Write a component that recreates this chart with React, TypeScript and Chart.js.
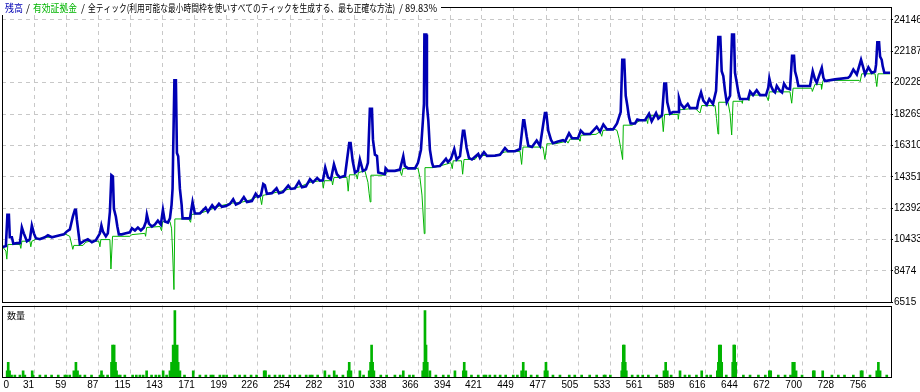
import React, { useEffect, useRef } from 'react';
import { Chart, registerables } from 'chart.js';

Chart.register(...registerables);
Chart.defaults.font.family = '"Liberation Sans", Arial, sans-serif';

const titleTexts = ['残高', '/', '有効証拠金', '/', '全ティック(利用可能な最小時間枠を使いすべてのティックを生成する、最も正確な方法)', '/', '89.83%'];
const volumeLabel = '数量';

const xTickLabels = [0, 31, 59, 87, 115, 143, 171, 199, 226, 254, 282, 310, 338, 366, 394, 421, 449, 477, 505, 533, 561, 589, 616, 644, 672, 700, 728, 756];
const yTickValues = [6515, 8474, 10433, 12392, 14351, 16310, 18269, 20228, 22187, 24146];

const balanceTrades = [
  3.7, 6.4, 7.7, 9.0, 9.8, 11.6, 12.9, 15.9, 18.6, 20.3, 22.0, 24.7, 27.3, 29.0, 30.8, 32.5, 36.0, 40.3, 43.0, 46.4,
  49.9, 53.4, 56.9, 59.5, 62.1, 64.7, 66.5, 67.4, 68.2, 70.0, 70.8, 74.3, 77.8, 81.3, 84.8, 88.3, 89.6, 90.9, 93.5, 95.2,
  97.0, 98.3, 99.6, 100.5, 102.2, 103.5, 104.8, 107.4, 110.9, 114.4, 116.2, 118.8, 121.4, 124.0, 126.6, 128.4, 129.2, 131.0, 133.6, 136.2,
  138.8, 141.4, 143.2, 144.9, 147.5, 149.3, 150.7, 151.6, 152.1, 153.2, 154.5, 155.4, 156.5, 158.0, 159.5, 160.3, 161.5, 166.7, 169.0, 171.0,
  175.4, 180.4, 182.4, 186.1, 188.5, 192.0, 194.6, 198.1, 201.5, 204.4, 206.8, 210.3, 213.7, 216.4, 220.7, 224.0, 226.0, 228.6, 230.6, 232.0,
  233.8, 238.1, 242.2, 244.3, 247.7, 252.4, 254.7, 258.2, 261.7, 264.3, 267.8, 271.3, 273.9, 277.6, 280.0, 282.6, 284.6, 287.0, 289.6, 292.2,
  294.8, 297.4, 301.8, 305.5, 306.7, 308.5, 310.5, 313.1, 314.8, 317.4, 320.1, 321.8, 323.5, 325.3, 326.2, 327.9, 329.7, 330.8, 336.6, 337.2,
  339.2, 345.3, 349.7, 352.6, 354.0, 356.7, 362.8, 365.4, 368.0, 369.7, 370.6, 371.0, 372.6, 373.2, 374.4, 375.8, 377.6, 378.7, 384.5, 389.8,
  391.5, 394.1, 397.0, 399.1, 402.0, 404.6, 405.7, 407.8, 409.8, 412.4, 417.9, 419.4, 422.9, 425.5, 432.5, 436.8, 441.2, 443.8, 449.9, 454.3,
  457.1, 458.0, 460.1, 461.5, 464.7, 468.8, 471.7, 476.0, 477.2, 478.9, 481.3, 483.0, 487.4, 491.7, 493.5, 497.0, 499.6, 504.8, 507.2, 510.0,
  515.3, 521.1, 524.0, 526.9, 530.1, 535.3, 538.8, 542.0, 543.4, 545.1, 546.4, 547.8, 549.2, 550.7, 554.5, 556.5, 558.8, 563.2, 566.7, 569.0,
  572.8, 574.8, 578.0, 580.0, 581.5, 582.6, 585.0, 587.6, 592.0, 592.8, 594.3, 597.2, 600.4, 602.4, 608.5, 609.6, 612.0, 614.0, 617.0, 619.2,
  622.4, 625.1, 627.1, 628.8, 630.0, 631.4, 632.9, 634.4, 637.3, 639.0, 640.7, 641.6, 643.1, 644.5, 646.0, 652.9, 654.7, 657.3, 660.5, 663.4,
  668.6, 670.6, 671.5, 673.0, 675.0, 676.5, 678.0, 680.8, 682.6, 684.3, 686.7, 689.5, 691.3, 693.0, 693.9, 695.4, 696.8, 706.9, 709.3, 711.3,
  712.8, 717.2, 718.6, 720.0, 728.7, 740.1, 741.8, 744.7, 747.7, 751.4, 753.4, 754.9, 757.8, 760.7, 763.6, 764.5, 765.6, 767.1, 768.0, 769.4,
  770.3, 771.7, 776.7
];
const balanceValues = [
  9962, 10023, 11982, 11982, 10574, 10574, 10164, 10207, 10207, 11186, 10819, 10329, 10452, 11309, 10819, 10513, 10452, 10574, 10697, 10574,
  10635, 10697, 10758, 10941, 11064, 11859, 12288, 12288, 11676, 10635, 10164, 10329, 10452, 10268, 10391, 10819, 11309, 10941, 10635, 10819,
  12166, 14449, 14370, 12349, 11860, 11247, 10758, 10758, 10819, 10880, 11144, 11002, 11186, 11002, 11186, 11553, 11982, 11431, 11247, 11370,
  11615, 11370, 12288, 11553, 11492, 11755, 12576, 13592, 15839, 20369, 20369, 15839, 15637, 13592, 12594, 11755, 11755, 11755, 12778, 12062,
  12062, 12429, 12166, 12576, 12350, 12674, 12472, 12533, 12655, 12943, 12613, 12735, 13084, 12778, 12839, 13286, 13084, 13207, 13898, 13819,
  13286, 13329, 13635, 13329, 13390, 13800, 13592, 13635, 14045, 13696, 13757, 14204, 14002, 14266, 14106, 14125, 14921, 14309, 14204, 15123,
  14510, 14309, 14413, 16451, 16451, 15349, 14615, 14737, 15429, 14719, 14817, 15227, 18594, 18594, 16653, 15735, 15655, 14615, 14510, 14878,
  14719, 14719, 14798, 15637, 15025, 14878, 14878, 15227, 16041, 17878, 18900, 23228, 23228, 18796, 17878, 16041, 15227, 14982, 15025, 15472,
  15270, 15472, 16084, 15429, 15637, 17229, 17229, 16145, 15533, 15429, 15778, 15533, 15882, 15655, 15673, 15717, 16145, 15943, 15943, 16084,
  17878, 17878, 16862, 16286, 16206, 16616, 16286, 18331, 18331, 17229, 16653, 16451, 16555, 16635, 16555, 17064, 16757, 16757, 17229, 17021,
  17021, 17474, 17168, 17615, 17308, 17308, 17676, 18392, 21655, 21655, 19408, 18796, 18086, 17676, 17676, 17921, 17878, 17878, 18288, 17816,
  18331, 17982, 18184, 20167, 20167, 19004, 18288, 18392, 18392, 19267, 18900, 18637, 18900, 18637, 18637, 19065, 19616, 19102, 18839, 19206,
  18900, 19714, 23081, 23081, 20939, 20633, 19714, 19004, 19408, 23228, 23228, 20841, 20228, 19616, 19206, 19206, 19678, 19451, 19757, 19451,
  19451, 19922, 20492, 20020, 19714, 19616, 20020, 19714, 19616, 20167, 19880, 19818, 21900, 21900, 20939, 20535, 20020, 20020, 20939, 20430,
  20228, 21147, 20535, 20326, 20430, 20535, 20633, 21043, 20737, 21655, 21147, 20737, 21184, 20841, 20920, 21349, 22739, 22739, 21857, 21655,
  21245, 20841, 20841
];

const equityTrades = [
  3.7, 6.4, 7.2, 8.1, 18.6, 19.4, 20.3, 27.3, 28.1, 29.0, 32.5, 40.3, 46.4, 53.4, 58.6, 62.0, 64.7, 65.6, 73.5, 76.0,
  79.6, 87.4, 88.3, 89.1, 97.0, 97.9, 99.3, 114.4, 116.2, 127.5, 128.1, 129.0, 140.6, 142.0, 142.9, 149.3, 150.7, 151.6, 152.8, 153.6,
  165.8, 167.3, 168.2, 175.4, 184.1, 192.8, 204.2, 210.3, 219.0, 227.7, 229.2, 230.3, 240.8, 253.8, 262.6, 271.3, 280.0, 282.2, 282.9, 283.9,
  290.4, 291.0, 292.2, 303.5, 304.6, 305.7, 311.8, 312.5, 313.5, 319.2, 321.8, 322.9, 323.8, 324.4, 336.6, 339.2, 349.7, 351.2, 352.3, 365.4,
  367.1, 368.9, 370.9, 371.5, 378.4, 384.5, 394.1, 395.3, 396.1, 403.3, 404.3, 405.5, 415.1, 417.7, 432.5, 441.2, 454.3, 455.7, 456.9, 474.3,
  476.0, 477.8, 484.8, 495.2, 496.1, 497.8, 505.7, 506.5, 507.4, 520.5, 524.0, 525.5, 526.6, 537.0, 538.8, 540.5, 542.3, 543.7, 544.3, 551.9,
  558.8, 564.9, 565.5, 566.2, 578.0, 579.1, 580.3, 591.9, 592.2, 593.2, 606.8, 611.1, 612.6, 624.2, 625.5, 626.8, 627.4, 635.5, 637.3, 638.7,
  639.9, 647.7, 648.0, 648.6, 653.4, 653.8, 654.7, 668.6, 670.6, 671.5, 689.5, 691.0, 692.2, 708.4, 709.0, 711.3, 716.6, 717.0, 718.3, 749.7,
  750.6, 752.0, 763.6, 765.1, 766.2, 776.7
];
const equityValues = [
  9962, 9717, 9209, 10127, 10127, 9882, 10329, 10329, 9980, 10329, 10452, 10574, 10574, 10697, 10758, 10635, 9820, 10066, 10066, 10268,
  10329, 10329, 9980, 10431, 10431, 8596, 10635, 10635, 10739, 10819, 10635, 11186, 11247, 10984, 11553, 11553, 11144, 9717, 7311, 11719,
  11719, 11511, 12000, 12062, 12288, 12533, 12717, 12735, 12900, 13189, 12613, 13189, 13360, 13592, 13727, 14002, 14106, 14106, 13635, 14106,
  14106, 13837, 14309, 14309, 13451, 14474, 14474, 14204, 14615, 14719, 14002, 13286, 12778, 14449, 14449, 14719, 14737, 14431, 14859, 14878,
  14309, 13207, 10800, 14921, 14921, 15025, 15227, 14859, 15349, 15349, 14510, 15429, 15429, 15686, 15673, 15900, 15943, 15123, 16206, 16206,
  15429, 16408, 16408, 16574, 16451, 16696, 16696, 16574, 16941, 17002, 17168, 16880, 17247, 17308, 17247, 16757, 16041, 15429, 17572, 17572,
  17859, 17859, 17676, 18165, 18165, 17168, 18245, 18245, 17939, 18533, 18625, 18331, 18796, 18796, 17982, 17021, 19004, 19004, 18288, 16960,
  19065, 19065, 18943, 19206, 19206, 19102, 19451, 19451, 19102, 19653, 19653, 18943, 19880, 19880, 19678, 20124, 20124, 19818, 20369, 20369,
  20290, 20780, 20780, 19984, 20780, 20780
];

const volumeTrades = [
  7.5, 8.4, 9.6, 11.3, 14.2, 18.6, 21.4, 22.9, 29.3, 30.2, 36, 41, 46.2, 52, 57.8, 59.2, 62, 65.6, 67.4, 68.8,
  71, 75.2, 81, 88.3, 89.7, 91.1, 95, 98.4, 99.3, 100.7, 101.9, 102.8, 104.2, 106, 110, 116.8, 120, 123.1, 126, 129,
  133.3, 137, 140, 143.4, 146.4, 149.3, 150.7, 152.1, 153.6, 155.6, 156.5, 158, 162, 169.6, 175.4, 180.6, 185, 187, 192.8, 196,
  198.7, 205.9, 210, 214.6, 220, 224.8, 231.4, 232.6, 235.8, 240.8, 245, 248, 253.8, 258, 262.5, 268, 271.3, 273.3, 278, 284.3,
  288, 292.4, 294.5, 300, 304.6, 305.5, 307, 314.8, 318, 322.9, 324.1, 325, 325.9, 327, 333, 338.1, 345.3, 350, 352.6, 358,
  361.3, 369.5, 370.6, 371.5, 372.4, 373.5, 375.8, 381, 387.4, 392, 397.6, 404.9, 405.7, 407.2, 412, 417.9, 422.9, 424.6, 428, 432.5,
  437, 441.8, 448.4, 452, 455.7, 457.1, 459.2, 464, 469.3, 476, 476.9, 478.1, 483, 489.1, 497.2, 502, 508, 515, 521.1, 527.5,
  528.6, 533, 542.9, 543.7, 544.3, 545.1, 546, 546.9, 552, 557, 561.2, 566.1, 573.4, 579.7, 581.2, 582.6, 586, 593.7, 598, 601.8,
  608, 612.6, 617, 620.4, 626.2, 627.1, 627.9, 629.1, 630, 634, 639.6, 640.5, 641.3, 642.2, 648.9, 654.7, 662, 668, 671.5, 672.7,
  679.3, 685.2, 690, 691.9, 693.3, 694.8, 700, 709.8, 710.7, 718, 726, 731.6, 737, 744.7, 751.4, 752.5, 759.2, 765.1, 766.5, 768,
  773.8
];
const volumeLots = [
  0.03, 0.07, 0.03, 0.01, 0.01, 0.01, 0.03, 0.01, 0.03, 0.01, 0.01, 0.01, 0.01, 0.01, 0.01, 0.01, 0.01, 0.03, 0.07, 0.03,
  0.01, 0.01, 0.01, 0.01, 0.03, 0.01, 0.01, 0.07, 0.15, 0.15, 0.07, 0.03, 0.01, 0.01, 0.01, 0.01, 0.01, 0.01, 0.01, 0.03,
  0.01, 0.01, 0.01, 0.03, 0.01, 0.03, 0.07, 0.15, 0.31, 0.15, 0.07, 0.03, 0.01, 0.03, 0.01, 0.01, 0.01, 0.01, 0.01, 0.01,
  0.01, 0.01, 0.01, 0.01, 0.01, 0.01, 0.03, 0.03, 0.01, 0.01, 0.01, 0.01, 0.01, 0.01, 0.01, 0.01, 0.01, 0.01, 0.01, 0.03,
  0.01, 0.03, 0.01, 0.01, 0.03, 0.07, 0.03, 0.03, 0.01, 0.03, 0.07, 0.15, 0.07, 0.03, 0.01, 0.01, 0.01, 0.01, 0.03, 0.01,
  0.01, 0.03, 0.07, 0.31, 0.15, 0.07, 0.03, 0.01, 0.01, 0.01, 0.03, 0.03, 0.07, 0.03, 0.01, 0.01, 0.01, 0.01, 0.01, 0.01,
  0.01, 0.01, 0.01, 0.01, 0.03, 0.07, 0.03, 0.01, 0.01, 0.03, 0.07, 0.03, 0.01, 0.01, 0.01, 0.01, 0.01, 0.01, 0.01, 0.01,
  0.01, 0.01, 0.03, 0.07, 0.15, 0.15, 0.07, 0.03, 0.01, 0.01, 0.01, 0.01, 0.01, 0.03, 0.07, 0.03, 0.01, 0.03, 0.01, 0.01,
  0.01, 0.03, 0.01, 0.01, 0.03, 0.07, 0.15, 0.15, 0.07, 0.01, 0.07, 0.15, 0.15, 0.07, 0.01, 0.01, 0.01, 0.01, 0.03, 0.03,
  0.01, 0.01, 0.01, 0.07, 0.07, 0.03, 0.01, 0.03, 0.03, 0.03, 0.01, 0.01, 0.01, 0.01, 0.03, 0.03, 0.01, 0.03, 0.07, 0.03,
  0.01
];

const X_MIN = 3;
const X_MAX = 777.5;
const Y_MIN = 6515;
const Y_MAX = 24950;
const VOL_MAX = 0.334;

const BLUE = '#0000b4';
const GREEN = '#00b400';
const GRID = '#c8c8c8';
const DASH = [4, 4];
const LABEL_FONT = { family: '"Liberation Sans", Arial, sans-serif', size: 10 };
const CJK = '"Noto Sans CJK JP", "Noto Sans CJK SC", sans-serif';

const framePlugin = {
  id: 'frame',
  afterDraw(chart: any) {
    const { ctx, chartArea: a } = chart;
    ctx.save();
    ctx.strokeStyle = '#000';
    ctx.lineWidth = 1;
    ctx.setLineDash([]);
    const l = Math.round(a.left) + 0.5;
    const t = Math.round(a.top) + 0.5;
    const r = Math.round(a.right) + 0.5;
    const b = Math.round(a.bottom) + 0.5;
    ctx.strokeRect(l, t, r - l, b - t);
    ctx.restore();
  },
};

const titlePlugin = {
  id: 'mtTitle',
  afterDraw(chart: any) {
    const ctx = chart.ctx;
    ctx.save();
    ctx.fillStyle = '#fff';
    ctx.fillRect(0, 0, 441, 15);
    ctx.font = `10px ${CJK}`;
    ctx.textBaseline = 'middle';
    ctx.textAlign = 'left';
    const y = 8;
    const colors = [BLUE, '#000', GREEN, '#000', '#000', '#000', '#000'];
    const xs = [5, 26, 33, 81, 88, 399, 405];
    const ws = [18, 5, 44, 5, 307, 5, 32];
    titleTexts.forEach((txt, i) => {
      ctx.fillStyle = colors[i];
      ctx.fillText(txt, xs[i], y, ws[i]);
    });
    ctx.restore();
  },
};

const volLabelPlugin = {
  id: 'volLabel',
  afterDraw(chart: any) {
    const { ctx, chartArea: a } = chart;
    ctx.save();
    ctx.fillStyle = '#000';
    ctx.font = `9px ${CJK}`;
    ctx.textBaseline = 'middle';
    ctx.textAlign = 'left';
    ctx.fillText(volumeLabel, a.left + 5, a.top + 10);
    // first x label ("0") sits at the left edge, left aligned
    const xs = chart.scales.x;
    const items = xs.getLabelItems();
    if (items && items.length) {
      const it = items[0];
      ctx.font = `${LABEL_FONT.size}px ${LABEL_FONT.family}`;
      ctx.textBaseline = it.options.textBaseline;
      ctx.fillText(String(xTickLabels[0]), a.left + 1.5, it.options.translation[1] + it.textOffset);
    }
    ctx.restore();
  },
};

export default function App() {
  const mainRef = useRef<HTMLCanvasElement>(null);
  const volRef = useRef<HTMLCanvasElement>(null);

  useEffect(() => {
    const xTicks = xTickLabels.filter((v) => v > 0);
    const main = new Chart(mainRef.current as HTMLCanvasElement, {
      type: 'line',
      data: {
        datasets: [
          {
            label: titleTexts[0],
            data: balanceTrades.map((t, i) => ({ x: t, y: balanceValues[i] })),
            borderColor: BLUE,
            borderWidth: 2.6,
            pointRadius: 0,
            tension: 0,
            fill: false,
          },
          {
            label: titleTexts[2],
            data: equityTrades.map((t, i) => ({ x: t, y: equityValues[i] })),
            borderColor: GREEN,
            borderWidth: 1,
            pointRadius: 0,
            tension: 0,
            fill: false,
          },
        ],
      },
      options: {
        animation: false,
        responsive: false,
        devicePixelRatio: 1,
        layout: { padding: { left: 2, top: 1, right: 0, bottom: 7.7 } },
        plugins: { legend: { display: false }, tooltip: { enabled: false } },
        scales: {
          x: {
            type: 'linear',
            min: X_MIN,
            max: X_MAX,
            afterBuildTicks: (s: any) => {
              s.ticks = xTicks.map((v) => ({ value: v }));
            },
            afterFit: (s: any) => {
              s.height = 0;
            },
            ticks: { display: false },
            grid: { color: GRID, drawTicks: false, lineWidth: 1 },
            border: { display: false, dash: DASH },
          },
          y: {
            type: 'linear',
            position: 'right',
            min: Y_MIN,
            max: Y_MAX,
            afterBuildTicks: (s: any) => {
              s.ticks = yTickValues.map((v) => ({ value: v }));
            },
            afterFit: (s: any) => {
              s.width = 29;
            },
            ticks: {
              callback: (v: any) => String(v),
              color: '#000',
              font: LABEL_FONT,
              padding: 1,
              autoSkip: false,
            },
            grid: {
              color: GRID,
              drawTicks: true,
              tickLength: 2,
              tickColor: '#000',
              tickBorderDash: [],
              lineWidth: 1,
            },
            border: { display: false, dash: DASH },
          },
        },
      } as any,
      plugins: [framePlugin, titlePlugin],
    } as any);

    const vol = new Chart(volRef.current as HTMLCanvasElement, {
      type: 'bar',
      data: {
        datasets: [
          {
            label: volumeLabel,
            data: volumeTrades.map((t, i) => ({ x: t, y: volumeLots[i] })),
            backgroundColor: GREEN,
            borderWidth: 0,
            barThickness: 2,
            grouped: false,
          },
        ],
      },
      options: {
        animation: false,
        responsive: false,
        devicePixelRatio: 1,
        layout: { padding: { left: 2, top: 2.5, right: 29, bottom: 0 } },
        plugins: { legend: { display: false }, tooltip: { enabled: false } },
        scales: {
          x: {
            type: 'linear',
            min: X_MIN,
            max: X_MAX,
            offset: false,
            afterBuildTicks: (s: any) => {
              s.ticks = xTicks.map((v) => ({ value: v }));
            },
            afterFit: (s: any) => {
              s.height = 14.7;
            },
            ticks: {
              align: 'end',
              padding: 2,
              color: '#000',
              font: LABEL_FONT,
              maxRotation: 0,
              autoSkip: false,
              callback: (v: any) => String(v),
            },
            grid: { color: GRID, drawTicks: false, offset: false, lineWidth: 1 },
            border: { display: false, dash: DASH },
          },
          y: { display: false, min: 0, max: VOL_MAX },
        },
      } as any,
      plugins: [framePlugin, volLabelPlugin],
    } as any);

    return () => {
      main.destroy();
      vol.destroy();
    };
  }, []);

  return (
    <div style={{ position: 'fixed', left: 0, top: 0, width: 920, height: 392, background: '#fff', overflow: 'hidden' }}>
      <canvas ref={mainRef} width={920} height={310} style={{ position: 'absolute', left: 0, top: 0 }} />
      <canvas ref={volRef} width={920} height={89} style={{ position: 'absolute', left: 0, top: 303 }} />
    </div>
  );
}
